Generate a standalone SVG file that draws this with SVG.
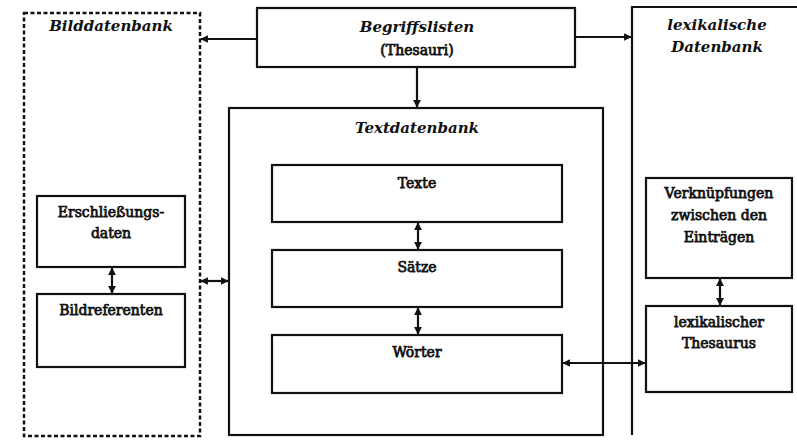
<svg xmlns="http://www.w3.org/2000/svg" width="797" height="442" viewBox="0 0 797 442">
<style>
.box{fill:none;stroke:#111;stroke-width:2.2}
.dash{fill:none;stroke:#111;stroke-width:2.5;stroke-dasharray:4 2.5}
.t{font-family:'DejaVu Serif',serif;font-size:14px;font-weight:normal;fill:#111;text-anchor:middle;stroke:#111;stroke-width:0.75}
.ti{font-family:'DejaVu Serif',serif;font-size:15px;font-weight:bold;font-style:italic;fill:#111;text-anchor:middle}
.c{fill:none;stroke:#111;stroke-width:2.2}
</style>
<defs>
<marker id="ah" viewBox="0 0 10 10" refX="9" refY="5" markerWidth="3.5" markerHeight="3.5" orient="auto-start-reverse" markerUnits="strokeWidth">
<path d="M0,0 L10,5 L0,10 z" fill="#111"/>
</marker>
</defs>
<rect width="797" height="442" fill="#fff"/>
<g id="bilddatenbank">
<rect class="dash" x="24" y="13" width="176" height="423"/>
<text class="ti" x="111" y="31">Bilddatenbank</text>
</g>
<g id="erschliessungsdaten">
<rect class="box" x="37" y="196" width="148" height="71"/>
<text class="t" x="111" y="217">Erschließungs-</text>
<text class="t" x="111" y="238">daten</text>
</g>
<g id="bildreferenten">
<rect class="box" x="37" y="294" width="148" height="73"/>
<text class="t" x="111" y="315">Bildreferenten</text>
</g>
<g id="begriffslisten">
<rect class="box" x="257" y="8" width="318" height="59"/>
<text class="ti" x="417" y="32">Begriffslisten</text>
<text class="t" x="417" y="55">(Thesauri)</text>
</g>
<g id="textdatenbank">
<rect class="box" x="229" y="108" width="374" height="327"/>
<text class="ti" x="417" y="133">Textdatenbank</text>
</g>
<g id="texte">
<rect class="box" x="272" y="165" width="290" height="57"/>
<text class="t" x="417" y="188">Texte</text>
</g>
<g id="saetze">
<rect class="box" x="272" y="250" width="290" height="57"/>
<text class="t" x="417" y="272">Sätze</text>
</g>
<g id="woerter">
<rect class="box" x="272" y="335" width="290" height="58"/>
<text class="t" x="417" y="357">Wörter</text>
</g>
<g id="lexikalische-datenbank">
<path class="box" d="M632,435 L632,7 L800,7"/>
<text class="ti" x="717" y="30">lexikalische</text>
<text class="ti" x="717" y="52">Datenbank</text>
</g>
<g id="verknuepfungen">
<rect class="box" x="646" y="178" width="146" height="100"/>
<text class="t" x="719" y="198">Verknüpfungen</text>
<text class="t" x="719" y="220">zwischen den</text>
<text class="t" x="719" y="242">Einträgen</text>
</g>
<g id="lexikalischer-thesaurus">
<rect class="box" x="646" y="306" width="146" height="86"/>
<text class="t" x="719" y="327">lexikalischer</text>
<text class="t" x="719" y="348">Thesaurus</text>
</g>
<g id="connectors">
<line class="c" x1="257" y1="39" x2="201" y2="39" marker-end="url(#ah)"/>
<line class="c" x1="575" y1="37" x2="631" y2="37" marker-end="url(#ah)"/>
<line class="c" x1="417" y1="67" x2="417" y2="107" marker-end="url(#ah)"/>
<line class="c" x1="418" y1="223" x2="418" y2="249" marker-start="url(#ah)" marker-end="url(#ah)"/>
<line class="c" x1="418" y1="308" x2="418" y2="334" marker-start="url(#ah)" marker-end="url(#ah)"/>
<line class="c" x1="112" y1="268" x2="112" y2="293" marker-start="url(#ah)" marker-end="url(#ah)"/>
<line class="c" x1="201" y1="281" x2="228" y2="281" marker-start="url(#ah)" marker-end="url(#ah)"/>
<line class="c" x1="563" y1="363" x2="645" y2="363" marker-start="url(#ah)" marker-end="url(#ah)"/>
<line class="c" x1="720" y1="279" x2="720" y2="305" marker-start="url(#ah)" marker-end="url(#ah)"/>
</g>
</svg>
